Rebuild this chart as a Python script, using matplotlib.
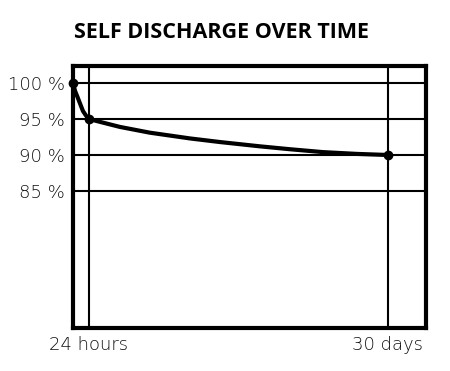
import matplotlib
matplotlib.use('Agg')
import matplotlib.pyplot as plt

# self discharge curve, time in days, charge in percent
days = [-0.55, -0.35, -0.07, 0.2, 0.42, 0.7, 1.0, 2.07, 4.0, 6.9, 10.8, 13.7, 17.6, 20.5, 23.7, 27.0, 30.0]
charge = [100.0, 98.9, 97.9, 96.9, 96.1, 95.5, 95.0, 94.6, 93.9, 93.1, 92.3, 91.8, 91.2, 90.8, 90.4, 90.15, 90.0]
marked_days = [-0.55, 1.0, 30.0]
marked_charge = [100.0, 95.0, 90.0]

y_ticks = [85, 90, 95, 100]
y_labels = ['85 %', '90 %', '95 %', '100 %']
x_ticks = [1, 30]
x_labels = ['24 hours', '30 days']

fig = plt.figure(figsize=(4.5, 3.71), dpi=100)
ax = fig.add_axes([0.1622, 0.1159, 0.7844, 0.7062])

for y in y_ticks:
    ax.axhline(y, color='black', lw=1.5, zorder=1)
for x in x_ticks:
    ax.axvline(x, color='black', lw=1.5, zorder=1)

ax.plot(days, charge, color='black', lw=3, solid_capstyle='round', solid_joinstyle='round', zorder=3)
ax.plot(marked_days, marked_charge, 'o', color='black', ms=6, zorder=4, clip_on=False)

ax.set_xlim(-0.55, 33.7)
ax.set_ylim(65.97, 102.36)
ax.set_yticks(y_ticks)
ax.set_yticklabels(y_labels)
ax.set_xticks(x_ticks)
ax.set_xticklabels(x_labels)
ax.tick_params(length=0, labelsize=13, pad=6)
for lab in ax.get_xticklabels() + ax.get_yticklabels():
    lab.set_fontfamily('DejaVu Sans')
    lab.set_fontweight('light')
    lab.set_color('#111111')
for s in ax.spines.values():
    s.set_linewidth(3)

fig.text(221 / 450, 1 - 32 / 371, 'SELF DISCHARGE OVER TIME', ha='center', va='center',
         fontsize=15.5, fontweight='bold', family='Open Sans')

plt.savefig('out.png', dpi=100)
